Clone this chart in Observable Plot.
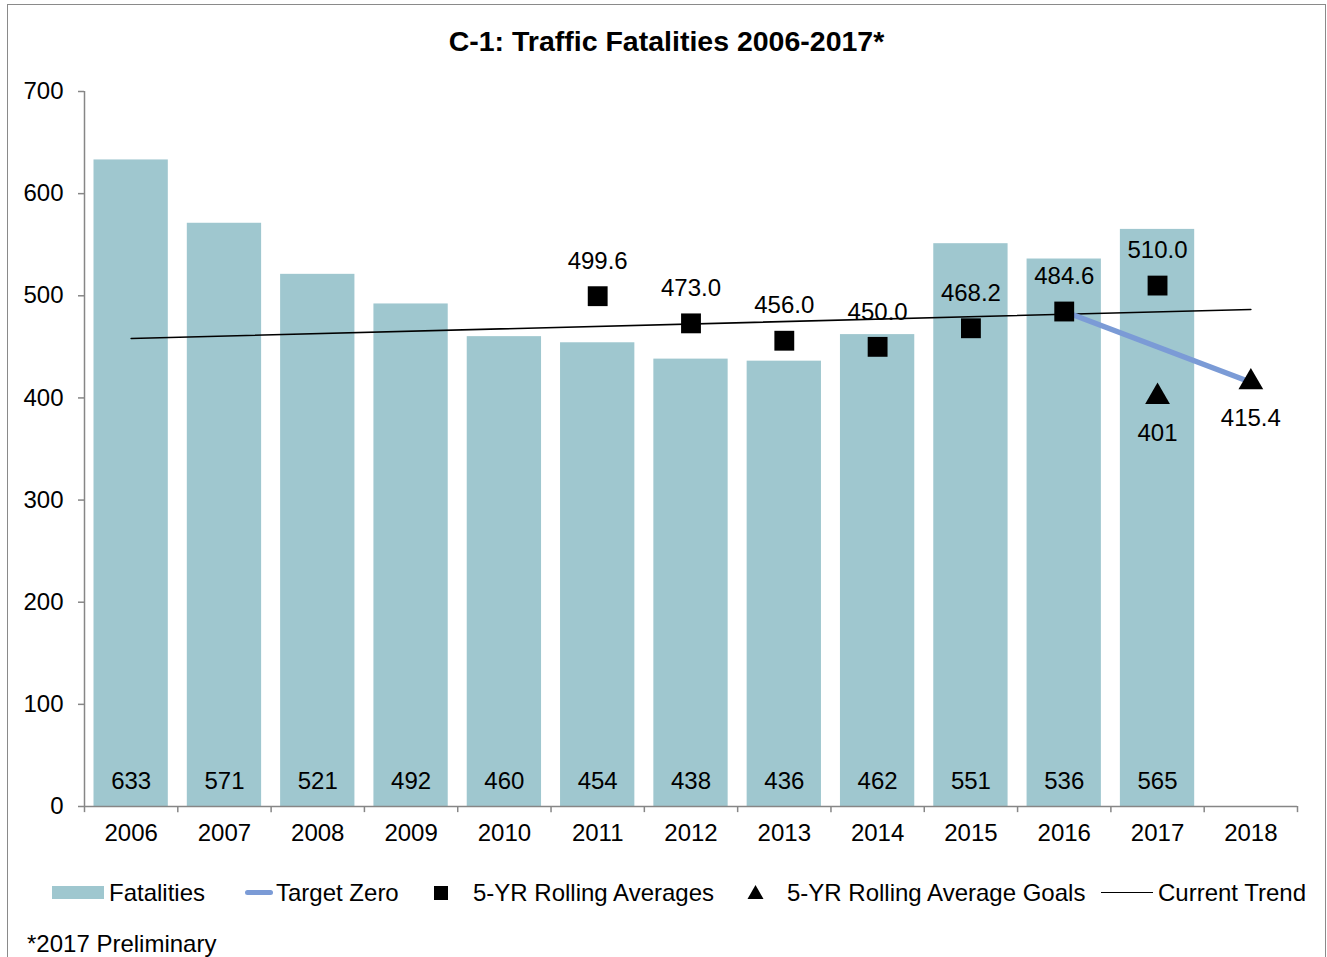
<!DOCTYPE html>
<html>
<head>
<meta charset="utf-8">
<script src="https://cdn.jsdelivr.net/npm/d3@7"></script>
<script src="https://cdn.jsdelivr.net/npm/@observablehq/plot@0.6"></script>
<style>
  html, body { margin: 0; padding: 0; background: #fff; }
  body { width: 1327px; height: 957px; position: relative; overflow: hidden; font-family: "Liberation Sans", Arial, sans-serif; }
  #frame { position: absolute; left: 7px; top: 4px; width: 1319px; height: 1000px; border: 1.5px solid #8a8a8a; box-sizing: border-box; }
  #chart { position: absolute; left: 0; top: 0; }
  #title { position: absolute; left: 7px; width: 1319px; top: 24px; text-align: center; font-weight: bold; font-size: 28.5px; color: #000; line-height: 34px; }
  #legend { position: absolute; top: 879px; left: 0; width: 1327px; height: 28px; font-size: 24px; color: #000; }
  .li { position: absolute; top: 0; white-space: nowrap; line-height: 28px; }
  #caption { position: absolute; left: 27px; top: 930px; font-size: 24px; color: #000; line-height: 28px; }
</style>
</head>
<body>
<div id="frame"></div>
<div id="chart"></div>
<div id="title">C-1: Traffic Fatalities 2006-2017*</div>
<div id="legend"></div>
<div id="caption">*2017 Preliminary</div>
<script>
// ---- data ----
const years = ["2006","2007","2008","2009","2010","2011","2012","2013","2014","2015","2016","2017","2018"];
const fatalityYears = ["2006","2007","2008","2009","2010","2011","2012","2013","2014","2015","2016","2017"];
const fatalities = [633, 571, 521, 492, 460, 454, 438, 436, 462, 551, 536, 565];
const rollingYears = ["2011","2012","2013","2014","2015","2016","2017"];
const rollingAverages = [499.6, 473.0, 456.0, 450.0, 468.2, 484.6, 510.0];
const goalYears = ["2017","2018"];
const goals = [401, 415.4];
const goalLabels = ["401", "415.4"];
const targetYears = ["2016","2018"];
const targetZero = [484.6, 415.4];
const trendYears = ["2006","2018"];
const trendValues = [458.2, 486.6];
const yTicks = [0, 100, 200, 300, 400, 500, 600, 700];

// ---- tables ----
const barData = fatalityYears.map((y, i) => ({year: y, value: fatalities[i]}));
const rollData = rollingYears.map((y, i) => ({year: y, value: rollingAverages[i]}));
const goalData = goalYears.map((y, i) => ({year: y, value: goals[i], label: goalLabels[i]}));
const targetData = targetYears.map((y, i) => ({year: y, value: targetZero[i]}));
const trendData = trendYears.map((y, i) => ({year: y, value: trendValues[i]}));

const W = 1327, H = 870, mL = 84, mR = 30, mT = 91, mB = 64;
const bw = (W - mL - mR) / years.length;
const axisColor = "#868686";
const barColor = "#9fc7cf";
const blue = "#7b9bd6";
const font = "Liberation Sans, Arial, sans-serif";
const fs = 24;

const chart = Plot.plot({
  width: W, height: H,
  marginLeft: mL, marginRight: mR, marginTop: mT, marginBottom: mB,
  style: {fontFamily: font, fontSize: fs + "px", color: "#000", background: "transparent"},
  x: {type: "band", domain: years, padding: 0, align: 0.5, round: false, axis: null},
  y: {domain: [0, 700], axis: null},
  marks: [
    Plot.barY(barData, {x: "year", y: "value", fill: barColor, insetLeft: 9.5, insetRight: 9.5}),
    Plot.text(barData, {x: "year", y: 0, text: d => String(d.value), dy: -25, fontSize: fs, fill: "#000"}),
    // y axis
    Plot.ruleX([0], {x: () => years[0], y1: 0, y2: 700, dx: -bw / 2, stroke: axisColor, strokeWidth: 1.5}),
    Plot.tickY(yTicks, {y: d => d, x: () => years[0], insetRight: bw - 6, dx: -6, stroke: axisColor, strokeWidth: 1.5}),
    Plot.text(yTicks, {y: d => d, x: () => years[0], dx: -bw / 2 - 21, text: d => String(d), textAnchor: "end", fontSize: fs, fill: "#000"}),
    // x axis
    Plot.ruleY([0], {stroke: axisColor, strokeWidth: 1.5}),
    Plot.ruleX(years, {x: d => d, y1: 0, y2: -6, dx: -bw / 2, stroke: axisColor, strokeWidth: 1.5}),
    Plot.ruleX([years[years.length - 1]], {x: d => d, y1: 0, y2: -6, dx: bw / 2, stroke: axisColor, strokeWidth: 1.5}),
    Plot.text(years, {x: d => d, y: 0, text: d => d, dy: 27, fontSize: fs, fill: "#000"}),
    // trend
    Plot.line(trendData, {x: "year", y: "value", stroke: "#000", strokeWidth: 1.6}),
    // target zero
    Plot.line(targetData, {x: "year", y: "value", stroke: blue, strokeWidth: 5.5}),
    // rolling averages
    Plot.dot(rollData, {x: "year", y: "value", symbol: "square", r: 11.2, fill: "#000", stroke: "none"}),
    Plot.text(rollData, {x: "year", y: "value", text: d => d.value.toFixed(1), dy: -35, fontSize: fs, fill: "#000"}),
    // goals
    Plot.dot(goalData, {x: "year", y: "value", symbol: "triangle", r: 9.2, fill: "#000", stroke: "none"}),
    Plot.text(goalData, {x: "year", y: "value", text: "label", dy: 36, fontSize: fs, fill: "#000"})
  ]
});
document.getElementById("chart").appendChild(chart);

// ---- legend ----
const legend = document.getElementById("legend");
const items = [
  {x: 52, html: `<span style="display:inline-block;width:52px;height:13px;background:${barColor};vertical-align:middle;margin-right:5px;position:relative;top:-2px"></span>Fatalities`},
  {x: 245, html: `<span style="display:inline-block;width:28px;height:5px;border-radius:3px;background:${blue};vertical-align:middle;margin-right:3px;position:relative;top:-2px"></span>Target Zero`},
  {x: 434, html: `<span style="display:inline-block;width:14px;height:14px;background:#000;vertical-align:middle;margin-right:25px;position:relative;top:-2px"></span>5-YR Rolling Averages`},
  {x: 747, html: `<svg width="17" height="16" style="vertical-align:middle;margin-right:23px;position:relative;top:-3px"><polygon points="8.5,1 16.5,15 0.5,15" fill="#000"/></svg>5-YR Rolling Average Goals`},
  {x: 1101, html: `<span style="display:inline-block;width:52px;height:1.6px;background:#000;vertical-align:middle;margin-right:5px;position:relative;top:-2px"></span>Current Trend`}
];
for (const it of items) {
  const d = document.createElement("div");
  d.className = "li";
  d.style.left = it.x + "px";
  d.innerHTML = it.html;
  legend.appendChild(d);
}
</script>
</body>
</html>
